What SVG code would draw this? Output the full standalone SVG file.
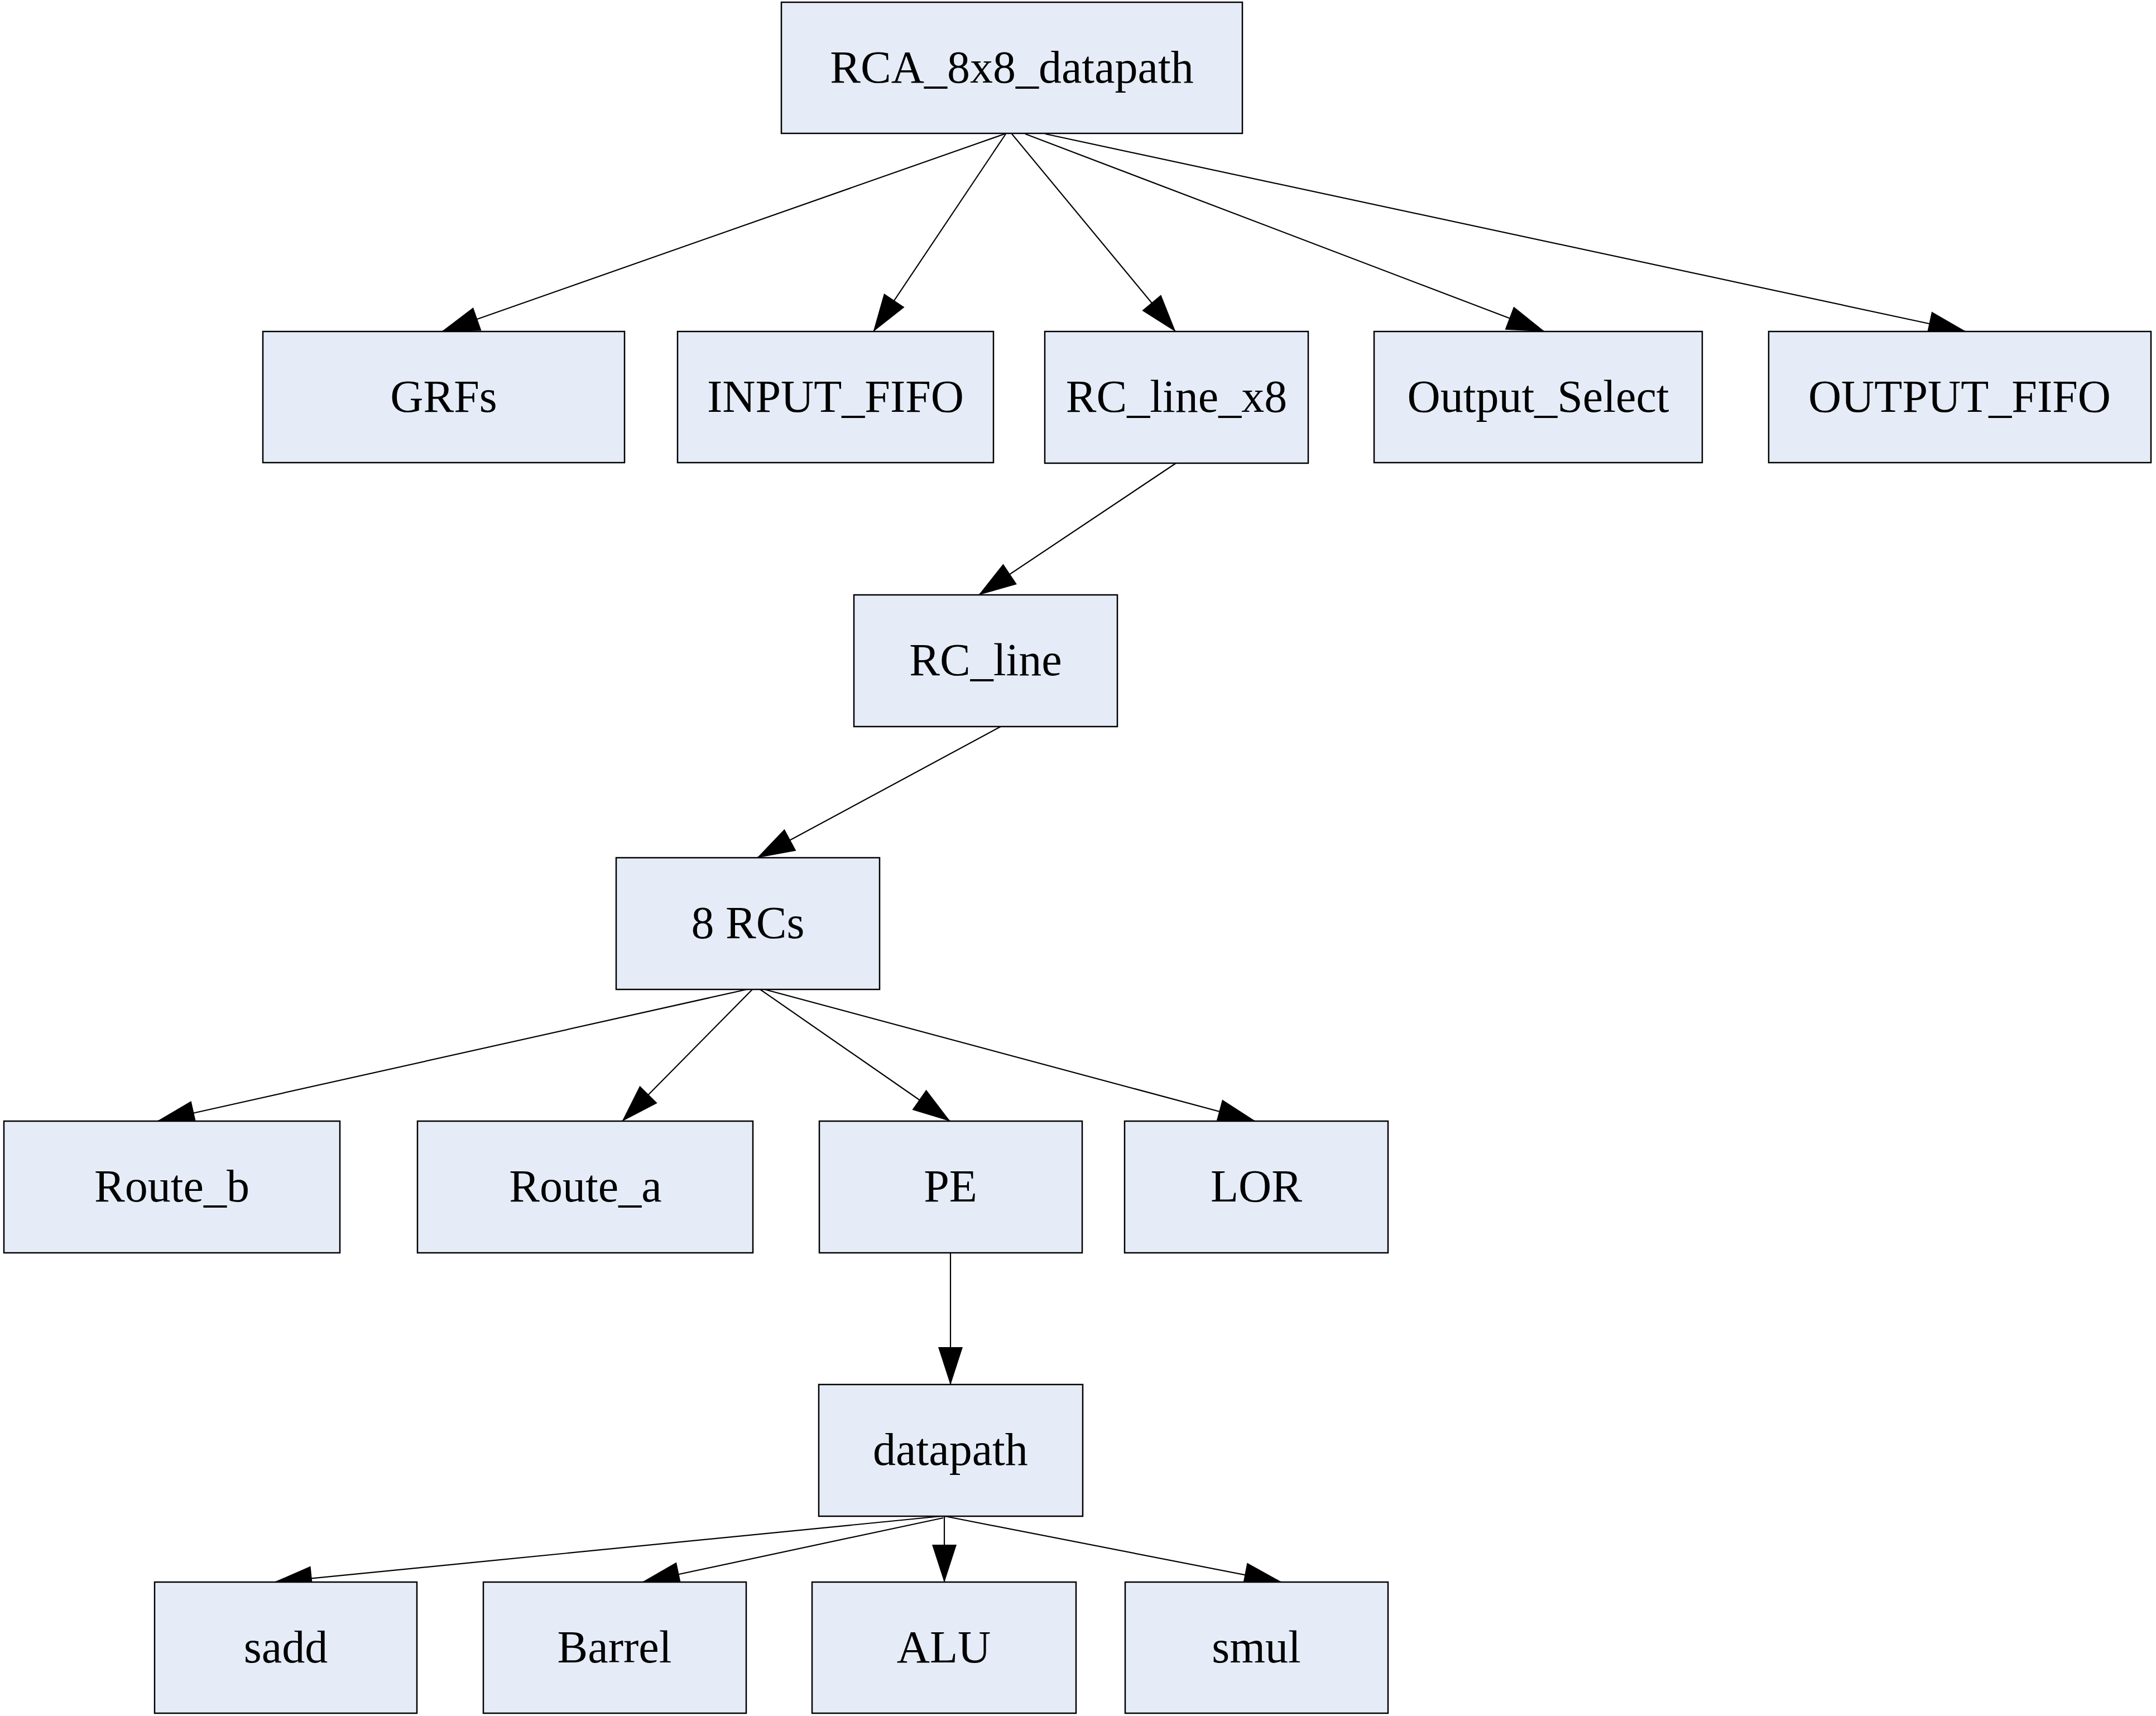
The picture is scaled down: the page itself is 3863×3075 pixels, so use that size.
<svg xmlns="http://www.w3.org/2000/svg" width="3863" height="3075" viewBox="0 0 3863 3075">
<style>
.node rect{fill:#E5ECF7;stroke:#000;stroke-width:2.5}
.node text{font-family:"Liberation Serif","Times New Roman",serif;font-size:82px;fill:#000;text-anchor:middle}
.edges line{stroke:#000;stroke-width:2.2;marker-end:url(#arr)}
</style>
<defs>
<marker id="arr" markerUnits="userSpaceOnUse" markerWidth="68" markerHeight="44" refX="67" refY="22" orient="auto" overflow="visible">
<path d="M0,0 L68,22 L0,44 z" fill="#000"/>
</marker>
</defs>
<rect width="3863" height="3075" fill="#fff"/>
<g class="edges" id="connectors">
<line x1="1800" y1="240" x2="792" y2="594"/>
<line x1="1802" y1="240" x2="1565" y2="594"/>
<line x1="1813" y1="240" x2="2106" y2="594"/>
<line x1="1837" y1="240" x2="2767" y2="594"/>
<line x1="1873" y1="240" x2="3522" y2="594"/>
<line x1="2107" y1="830" x2="1754" y2="1066"/>
<line x1="1793" y1="1302" x2="1357" y2="1537"/>
<line x1="1338" y1="1773" x2="282" y2="2009"/>
<line x1="1348" y1="1773" x2="1115" y2="2009"/>
<line x1="1362" y1="1773" x2="1702" y2="2009"/>
<line x1="1370" y1="1773" x2="2249" y2="2009"/>
<line x1="1703" y1="2245" x2="1703" y2="2481"/>
<line x1="1686" y1="2717" x2="492" y2="2835"/>
<line x1="1690" y1="2720" x2="1151" y2="2835"/>
<line x1="1692" y1="2717" x2="1692" y2="2835"/>
<line x1="1693" y1="2717" x2="2296" y2="2835"/>
</g>
<g class="node" id="n_root"><rect x="1400" y="4" width="826" height="235"/><text x="1813" y="148">RCA_8x8_datapath</text></g>
<g class="node" id="n_grfs"><rect x="471" y="594" width="648" height="235"/><text x="795" y="738">GRFs</text></g>
<g class="node" id="n_input_fifo"><rect x="1214" y="594" width="566" height="235"/><text x="1497" y="738">INPUT_FIFO</text></g>
<g class="node" id="n_rc_line_x8"><rect x="1872" y="594" width="472" height="236"/><text x="2108" y="738">RC_line_x8</text></g>
<g class="node" id="n_output_select"><rect x="2462" y="594" width="588" height="235"/><text x="2756" y="738">Output_Select</text></g>
<g class="node" id="n_output_fifo"><rect x="3169" y="594" width="685" height="235"/><text x="3511" y="738">OUTPUT_FIFO</text></g>
<g class="node" id="n_rc_line"><rect x="1530" y="1066" width="472" height="236"/><text x="1766" y="1210">RC_line</text></g>
<g class="node" id="n_8rcs"><rect x="1104" y="1537" width="472" height="236"/><text x="1340" y="1681">8 RCs</text></g>
<g class="node" id="n_route_b"><rect x="7" y="2009" width="602" height="236"/><text x="308" y="2153">Route_b</text></g>
<g class="node" id="n_route_a"><rect x="748" y="2009" width="601" height="236"/><text x="1049" y="2153">Route_a</text></g>
<g class="node" id="n_pe"><rect x="1468" y="2009" width="471" height="236"/><text x="1703" y="2153">PE</text></g>
<g class="node" id="n_lor"><rect x="2015" y="2009" width="472" height="236"/><text x="2251" y="2153">LOR</text></g>
<g class="node" id="n_datapath"><rect x="1467" y="2481" width="473" height="236"/><text x="1703" y="2625">datapath</text></g>
<g class="node" id="n_sadd"><rect x="277" y="2835" width="470" height="235"/><text x="512" y="2979">sadd</text></g>
<g class="node" id="n_barrel"><rect x="866" y="2835" width="471" height="235"/><text x="1101" y="2979">Barrel</text></g>
<g class="node" id="n_alu"><rect x="1455" y="2835" width="473" height="235"/><text x="1691" y="2979">ALU</text></g>
<g class="node" id="n_smul"><rect x="2016" y="2835" width="471" height="235"/><text x="2251" y="2979">smul</text></g>
</svg>
